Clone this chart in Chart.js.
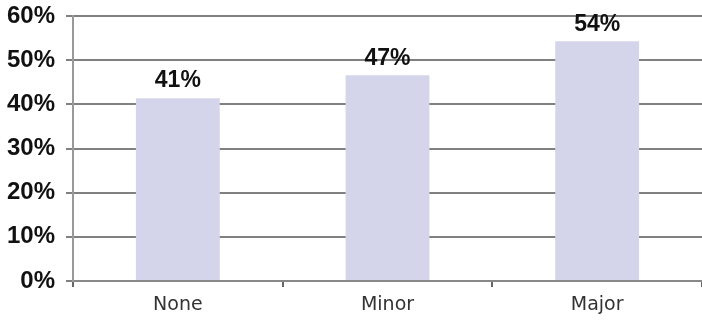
<!DOCTYPE html>
<html>
<head>
<meta charset="utf-8">
<script src="https://cdn.jsdelivr.net/npm/chart.js@4"></script>
<style>
  html, body { margin: 0; padding: 0; background: #fff; }
  #wrap { width: 702px; height: 325px; }
</style>
</head>
<body>
<div id="wrap"><canvas id="barChart"></canvas></div>
<script>
const categories = ['None', 'Minor', 'Major'];
const values = [41.4, 46.6, 54.3];
const valueLabels = ['41%', '47%', '54%'];
const yTicks = [0, 10, 20, 30, 40, 50, 60];

// draws the bold % labels above each bar
const barLabels = {
  id: 'barLabels',
  afterDatasetsDraw(chart) {
    const ctx = chart.ctx;
    const meta = chart.getDatasetMeta(0);
    ctx.save();
    ctx.font = 'bold 23px "Liberation Sans", Arial, sans-serif';
    ctx.fillStyle = '#111';
    ctx.textAlign = 'center';
    ctx.textBaseline = 'middle';
    meta.data.forEach((bar, i) => {
      ctx.fillText(valueLabels[i], bar.x, bar.y - 17);
    });
    ctx.restore();
  }
};

new Chart(document.getElementById('barChart'), {
  type: 'bar',
  data: {
    labels: categories,
    datasets: [{
      data: values,
      backgroundColor: '#d4d5ea',
      borderWidth: 0,
      barPercentage: 0.8,
      categoryPercentage: 0.5
    }]
  },
  plugins: [barLabels],
  options: {
    responsive: true,
    maintainAspectRatio: false,
    animation: false,
    layout: { padding: { top: 16, right: 0, bottom: 0, left: 0 } },
    plugins: {
      legend: { display: false },
      tooltip: { enabled: false }
    },
    scales: {
      x: {
        afterFit: (scale) => { scale.height = 44; },
        grid: {
          offset: true,
          drawOnChartArea: false,
          color: '#666',
          lineWidth: 2,
          tickLength: 6
        },
        border: { color: '#888', width: 2 },
        ticks: {
          color: '#333',
          padding: 7,
          font: { family: '"DejaVu Sans", Verdana, sans-serif', size: 19 }
        }
      },
      y: {
        min: 0,
        max: 60,
        afterFit: (scale) => {
          scale.width = 73;
          scale.paddingTop = 0;
          scale.paddingBottom = 0;
        },
        afterBuildTicks: (scale) => { scale.ticks = yTicks.map(v => ({ value: v })); },
        grid: {
          color: '#808080',
          lineWidth: 2,
          tickLength: 7
        },
        border: { color: '#999', width: 2 },
        ticks: {
          color: '#111',
          padding: 11,
          callback: (v) => v + '%',
          font: { family: '"Liberation Sans", Arial, sans-serif', size: 24, weight: 'bold' }
        }
      }
    }
  }
});
</script>
</body>
</html>
